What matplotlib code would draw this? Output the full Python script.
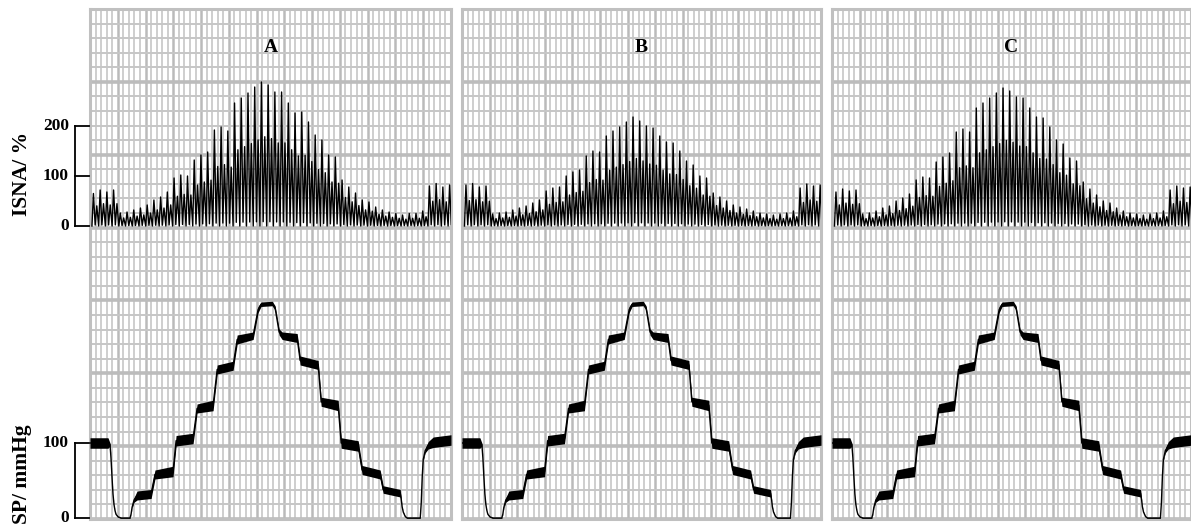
import numpy as np
import matplotlib
matplotlib.use('Agg')
import matplotlib.pyplot as plt
from matplotlib.transforms import blended_transform_factory

# ---------------- data ----------------
panel_titles = ['A', 'B', 'C']

# ISNA peak value (%) of each successive beat
isna_A = [65, 72, 68, 72, 26, 28, 32, 36, 42, 52, 58, 68, 96, 102, 100, 132, 142, 148,
          192, 198, 190, 246, 256, 266, 278, 288, 282, 268, 268, 246, 226, 228, 208, 182,
          172, 142, 138, 92, 78, 66, 52, 48, 38, 32, 28, 25, 22, 25, 25, 30, 80, 85, 78, 82]
isna_B = [82, 85, 78, 80, 24, 26, 28, 32, 36, 40, 46, 52, 70, 76, 78, 100, 108, 112,
          140, 150, 148, 180, 190, 198, 208, 218, 210, 200, 196, 180, 168, 166, 150, 130,
          122, 100, 96, 66, 58, 50, 42, 38, 34, 30, 26, 24, 22, 24, 26, 30, 76, 84, 80, 82]
isna_C = [68, 74, 70, 72, 24, 26, 30, 36, 40, 50, 56, 64, 92, 98, 96, 128, 138, 146,
          188, 194, 188, 236, 246, 256, 266, 276, 270, 258, 256, 236, 218, 216, 198, 172,
          164, 136, 130, 88, 74, 62, 50, 46, 36, 30, 26, 24, 22, 24, 26, 30, 72, 80, 76, 78]

# SP trace breakpoints: time (grid units), mean pressure (mmHg), pulse half-band (mmHg)
sp_t = [0.0, 3.24, 3.6, 3.78, 3.96, 4.14, 4.32, 4.5, 4.68, 5.05, 5.6, 7.2, 7.39, 7.57, 7.93,
        8.47, 11.0, 11.7, 14.95, 15.5, 18.56, 19.28, 22.16, 22.9, 25.77, 26.5, 29.37, 30.27,
        30.8, 32.8, 33.33, 34.05, 34.6, 37.3, 37.84, 41.08, 41.62, 44.68, 45.23, 48.29, 49.0,
        52.25, 52.79, 55.86, 56.04, 56.2, 56.4, 56.76, 57.1, 59.46, 59.64, 59.82, 60.0, 60.36,
        60.9, 61.8, 65.0]
sp_mid = [100, 100, 98, 80, 55, 32, 18, 10, 5, 1.5, 0, 0, 5, 14, 24,
          30, 32, 58, 62, 103, 106, 146, 150, 198, 203, 238, 243, 278,
          285, 286, 280, 248, 243, 240, 210, 204, 155, 150, 100, 96, 64,
          58, 38, 33, 25, 15, 8, 2, 0, 0, 20, 55, 78, 90,
          97, 101, 104]
sp_band = [7, 7, 2, 0.5, 0.5, 0.5, 0.5, 0.5, 0.5, 0.5, 0.5, 0.5, 0.5, 1, 3,
           6, 6, 6, 7, 7, 7, 6, 7, 6, 6, 6, 5, 4,
           3, 3, 3, 4, 5, 6, 6, 6, 6, 7, 7, 7, 6,
           6, 5, 5, 1, 0.5, 0.5, 0.5, 0.5, 0.5, 0.5, 0.5, 1, 3,
           5, 7, 7]

isna_sets = [isna_A, isna_B, isna_C]
beat_start = [0.35, 0.45, 0.45]
beat_period = 1.21
# shape of one beat: (fraction of period, fraction of peak)
beat_shape_t = [0.0, 0.22, 0.48, 0.72]
beat_shape_y = [0.0, 1.0, 0.03, 0.62]

# ---------------- layout ----------------
W, H = 1191, 529
panel_left_px = [90, 462, 832]
panel_width_px = [361, 359, 359]
top_px, bottom_px = 9, 519
isna0_px, isna_px_per100 = 226, 50.0
sp0_px, sp_px_per100 = 518, 75.0
XMAX = 65
YMAX = 35

serif = ['Liberation Serif', 'DejaVu Serif']
fig = plt.figure(figsize=(W / 100, H / 100), dpi=100)
fig.patch.set_facecolor('white')

isna_lim = (-(bottom_px - isna0_px) / isna_px_per100 * 100, (isna0_px - top_px) / isna_px_per100 * 100)
sp_lim = (-(bottom_px - sp0_px) / sp_px_per100 * 100, (sp0_px - top_px) / sp_px_per100 * 100)

for k in range(3):
    rect = [panel_left_px[k] / W, 1 - bottom_px / H, panel_width_px[k] / W, (bottom_px - top_px) / H]
    ax = fig.add_axes(rect)
    ax.set_xlim(0, XMAX)
    ax.set_ylim(0, YMAX)
    ax.set_xticks(np.arange(0, XMAX + 1, 5))
    ax.set_xticks(np.arange(0, XMAX + 1, 1), minor=True)
    ax.set_yticks(np.arange(0, YMAX + 1, 5))
    ax.set_yticks(np.arange(0, YMAX + 1, 1), minor=True)
    ax.grid(which='minor', axis='x', color='#c6c6c6', lw=1.2)
    ax.grid(which='major', axis='x', color='#bababa', lw=1.8)
    ax.grid(which='minor', axis='y', color='#c6c6c6', lw=1.4)
    ax.grid(which='major', axis='y', color='#bcbcbc', lw=2.6)
    ax.set_axisbelow(True)
    ax.tick_params(which='both', length=0, labelbottom=False, labelleft=False)
    for s in ax.spines.values():
        s.set_color('#c0c0c0')
        s.set_linewidth(2.2)
    ax.text(0.5, (bottom_px - 47) / (bottom_px - top_px), panel_titles[k], transform=ax.transAxes,
            ha='center', va='center', fontsize=14, fontweight='bold', family=serif)

    # ISNA overlay
    axi = fig.add_axes(rect)
    axi.patch.set_alpha(0)
    axi.set_xlim(0, XMAX)
    axi.set_ylim(*isna_lim)
    axi.axis('off')
    peaks = isna_sets[k]
    tx, ty = [], []
    for i, p in enumerate(peaks):
        t0 = beat_start[k] + i * beat_period
        for ft, fy in zip(beat_shape_t, beat_shape_y):
            tx.append(t0 + ft * beat_period)
            ty.append(fy * p)
    tx.append(beat_start[k] + len(peaks) * beat_period)
    ty.append(0)
    axi.plot(tx, ty, color='black', lw=1.0)

    # SP overlay
    axs = fig.add_axes(rect)
    axs.patch.set_alpha(0)
    axs.set_xlim(0, XMAX)
    axs.set_ylim(*sp_lim)
    axs.axis('off')
    m = np.array(sp_mid, float)
    b = np.array(sp_band, float)
    axs.fill_between(sp_t, m - b, m + b, color='black', lw=0)
    axs.plot(sp_t, m, color='black', lw=1.0)

    if k == 0:
        w = panel_width_px[0]
        xb = (75 - panel_left_px[0]) / w
        xe = (89 - panel_left_px[0]) / w
        xl = (69 - panel_left_px[0]) / w
        tri = blended_transform_factory(axi.transAxes, axi.transData)
        axi.plot([xb, xb], [0, 200], color='black', lw=1.3, transform=tri, clip_on=False)
        for v in [0, 100, 200]:
            axi.plot([xb, xe], [v, v], color='black', lw=1.3, transform=tri, clip_on=False)
            axi.text(xl, v, str(v), transform=tri, ha='right', va='center', fontsize=12.5,
                     fontweight='bold', family=serif, clip_on=False)
        trs = blended_transform_factory(axs.transAxes, axs.transData)
        axs.plot([xb, xb], [0, 100], color='black', lw=1.3, transform=trs, clip_on=False)
        for v in [0, 100]:
            axs.plot([xb, xe], [v, v], color='black', lw=1.3, transform=trs, clip_on=False)
            axs.text(xl, v, str(v), transform=trs, ha='right', va='center', fontsize=12.5,
                     fontweight='bold', family=serif, clip_on=False)

fig.text(22 / W, 1 - 174 / H, 'ISNA/ %', rotation=90, ha='center', va='center',
         fontsize=15.5, fontweight='bold', family=serif)
fig.text(22 / W, 1 - 474 / H, 'SP/ mmHg', rotation=90, ha='center', va='center',
         fontsize=15.5, fontweight='bold', family=serif)

fig.savefig('out.png', dpi=100, facecolor='white')
